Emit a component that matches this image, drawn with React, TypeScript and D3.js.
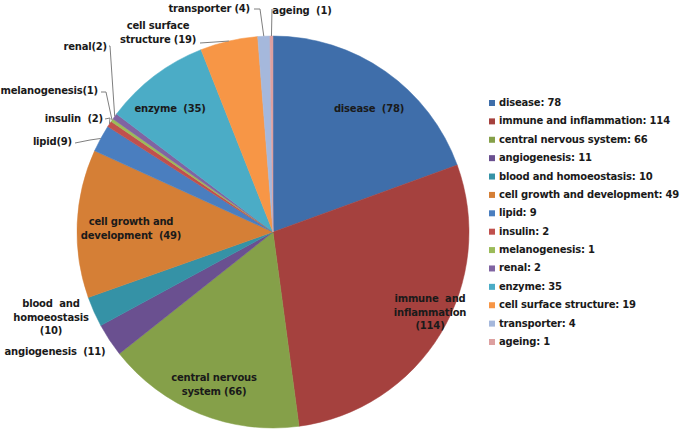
import React from "react";
import * as d3 from "d3";

const categories = [
  "disease", "immune and inflammation", "central nervous system", "angiogenesis",
  "blood and homoeostasis", "cell growth and development", "lipid", "insulin",
  "melanogenesis", "renal", "enzyme", "cell surface structure", "transporter", "ageing",
];
const values = [78, 114, 66, 11, 10, 49, 9, 2, 1, 2, 35, 19, 4, 1];
const colors = [
  "#3F6EAA", "#A5413E", "#85A049", "#6A5090", "#3592A6", "#D57F36", "#4A7EBF",
  "#C0504D", "#9BBB59", "#8064A2", "#4BACC6", "#F79646", "#A5B8DC", "#DDA0A0",
];
// slice labels (lines of text)
const sliceLabels: string[][] = [
  ["disease  (78)"],
  ["immune  and", "inflammation", "(114)"],
  ["central nervous", "system (66)"],
  ["angiogenesis  (11)"],
  ["blood  and", "homoeostasis", "(10)"],
  ["cell growth and", "development  (49)"],
  ["lipid(9)"],
  ["insulin  (2)"],
  ["melanogenesis(1)"],
  ["renal(2)"],
  ["enzyme  (35)"],
  ["cell surface", "structure (19)"],
  ["transporter (4)"],
  ["ageing  (1)"],
];

// layout: text anchor point, anchor type, optional leader elbow
type Lay = { x: number; y: number; anchor: string; lead?: [number, number][] };
const layout: Lay[] = [
  { x: 369, y: 112, anchor: "middle" },
  { x: 430, y: 302, anchor: "middle" },
  { x: 214, y: 381, anchor: "middle" },
  { x: 55, y: 355, anchor: "middle" },
  { x: 51, y: 307, anchor: "middle" },
  { x: 131, y: 225, anchor: "middle" },
  { x: 72, y: 145, anchor: "end", lead: [[75, 143], [90, 140]] },
  { x: 103, y: 122, anchor: "end", lead: [[105, 119], [110, 118]] },
  { x: 98, y: 94, anchor: "end", lead: [[101, 92], [106, 92]] },
  { x: 107, y: 50, anchor: "end", lead: [[109, 46], [110, 46]] },
  { x: 170, y: 112, anchor: "middle" },
  { x: 158, y: 29, anchor: "middle", lead: [[200, 43], [215, 42]] },
  { x: 250, y: 12, anchor: "end", lead: [[254, 9], [260, 9]] },
  { x: 302, y: 14, anchor: "middle", lead: [[272, 9], [272, 9]] },
];

const W = 685, H = 432;
const cx = 273, cy = 232, R = 196;

export default function App() {
  const pie = d3.pie<number>().sort(null).value((d) => d)(values);
  const arc = d3.arc<d3.PieArcDatum<number>>().innerRadius(0).outerRadius(R);
  const font = "'DejaVu Sans', Verdana, sans-serif";
  const fs = 10;
  const ls = -0.2;
  const legendY = d3.scaleLinear().domain([0, categories.length - 1]).range([106, 345]);
  return (
    <svg width={W} height={H} style={{ position: "absolute", left: 0, top: 0, background: "#fff" }}>
      <g transform={`translate(${cx},${cy})`}>
        {pie.map((p, i) => (
          <path key={i} d={arc(p) || ""} fill={colors[i]} stroke={colors[i]} strokeWidth={0.5} />
        ))}
      </g>
      {pie.map((p, i) => {
        const L = layout[i];
        if (!L.lead) return null;
        const mid = (p.startAngle + p.endAngle) / 2;
        const ex = cx + R * Math.sin(mid), ey = cy - R * Math.cos(mid);
        const pts = [...L.lead, [ex, ey]];
        return (
          <polyline key={"l" + i} points={pts.map((q) => q.join(",")).join(" ")} fill="none" stroke="#7f7f7f" strokeWidth={1} />
        );
      })}
      {sliceLabels.map((lines, i) => {
        const L = layout[i];
        return (
          <text key={"t" + i} x={L.x} y={L.y} textAnchor={L.anchor} fontFamily={font} fontWeight="bold" fontSize={fs} letterSpacing={ls} fill="#1a1a1a" style={{ whiteSpace: "pre" }}>
            {lines.map((ln, j) => (
              <tspan key={j} x={L.x} dy={j === 0 ? 0 : 13.5}>{ln}</tspan>
            ))}
          </text>
        );
      })}
      {categories.map((c, i) => (
        <g key={"g" + i} transform={`translate(489,${legendY(i)})`}>
          <rect x={0} y={-6} width={6} height={6} fill={colors[i]} />
          <text x={10} y={0} fontFamily={font} fontWeight="bold" fontSize={fs} letterSpacing={ls} fill="#1a1a1a">{`${c}: ${values[i]}`}</text>
        </g>
      ))}
    </svg>
  );
}
